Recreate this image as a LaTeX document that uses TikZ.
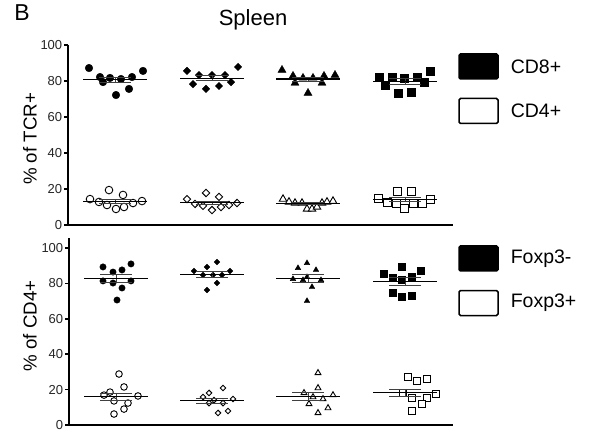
\documentclass[tikz,border=0pt]{standalone}
\usepackage{fontspec}
\setmainfont{Liberation Sans}
\usetikzlibrary{positioning, plotmarks}

\begin{document}
\begin{tikzpicture}[x=1pt, y=1pt,
  axis/.style={line width=1.6pt},
  tick label/.style={left, inner sep=1pt, text=black!85, font=\fontsize{13}{14}\selectfont},
  big/.style={font=\fontsize{19.5}{22}\selectfont},
  mean/.style={line width=1.1pt},
  sem/.style={line width=0.7pt, black!75},
  key/.style={draw, line width=1.5pt, rounded corners=1.5pt, minimum width=39pt, minimum height=25pt, inner sep=0pt},
  dots/.style={only marks, mark options={fill=black, line width=0.4pt}},
  rings/.style={only marks, mark options={fill=white, line width=0.9pt}},
  rdots/.style={only marks, mark options={fill=black, line width=0.4pt, rotate=45}},
  rrings/.style={only marks, mark options={fill=white, line width=0.9pt, rotate=45}}]
  \useasboundingbox (0,0) rectangle (596,431);

  \node[font=\fontsize{23}{24}\selectfont] (panel) at (22,418) {B};
  \node[font=\fontsize{22}{24}\selectfont] (spleen) at (253,411) {Spleen};
  \node[font=\fontsize{18.7}{20}\selectfont, rotate=90] (tcr label) at (30,292) {\% of TCR+};
  \node[font=\fontsize{18.7}{20}\selectfont, rotate=90] (cd4 label) at (30,105) {\% of CD4+};

  % upper panel
  \begin{scope}[shift={(0,206)}, y=1.8pt]
    \draw[axis] (68,100) -- (68,0) -- (453,0);
    \foreach \v in {0,20,...,100}
      \draw[axis] (64,\v) node[tick label] (tcr tick \v) {\v} -- (68,\v);

    \path plot[dots, mark=*, mark size=3.8pt] coordinates {(89,87.2) (100,82.2) (103,79.4) (110,81.7) (116,72.2) (121,81.1) (129,75.6) (132,82.2) (143,85.6)};
    \path plot[rdots, mark=square*, mark size=2.6pt] coordinates {(187,85.6) (193,78.3) (199,83.3) (206,75.6) (212,83.3) (219,77.2) (225,83.3) (231,79.4) (238,87.8)};
    \path plot[dots, mark=triangle*, mark size=4.6pt] coordinates {(282,86.1) (293,82.8) (295,78.9) (303,81.7) (308,73.3) (313,81.7) (322,78.9) (324,82.8) (335,83.3)};
    \path plot[dots, mark=square*, mark size=4.2pt] coordinates {(379,82.2) (385,77.8) (392,82.2) (398,73.3) (404,81.7) (411,73.9) (417,82.2) (424,79.4) (430,85.6)};

    \path plot[rings, mark=*, mark size=3.8pt] coordinates {(90,14.4) (99,12.8) (109,19.4) (107,11.1) (116,8.9) (123,16.7) (124,10.0) (133,12.2) (142,13.3)};
    \path plot[rrings, mark=square*, mark size=2.6pt] coordinates {(187,14.4) (195,11.7) (203,10.6) (206,17.8) (212,8.3) (219,15.6) (221,10.0) (229,11.1) (237,12.2)};
    \path plot[rings, mark=triangle*, mark size=4.3pt] coordinates {(283,14.4) (289,12.8) (295,12.2) (302,12.2) (307,8.9) (312,8.9) (317,10.0) (322,12.2) (327,12.8) (333,13.3)};
    \path plot[rings, mark=square*, mark size=4.0pt] coordinates {(378,15.0) (387,12.8) (397,18.9) (396,12.2) (404,9.4) (411,18.9) (413,12.2) (422,12.2) (430,14.4)};

    \foreach \gx/\m/\s in {115/80.8/1.5, 212/81.5/1.4, 308/81.1/1.2, 405/79.8/1.4,
                           115/13.2/1.1, 212/12.4/1.0, 308/11.8/0.6, 405/14.0/1.1} {
      \draw[sem] ({\gx-16},{\m+\s}) -- ({\gx+16},{\m+\s})
                 (\gx,{\m+\s}) -- (\gx,{\m-\s})
                 ({\gx-16},{\m-\s}) -- ({\gx+16},{\m-\s});
      \draw[mean] ({\gx-32},\m) -- ({\gx+32},\m);
    }
  \end{scope}

  % lower panel
  \begin{scope}[shift={(0,6)}, y=1.77pt]
    \draw[axis] (69,105.6) -- (69,0) -- (453,0);
    \foreach \v in {0,20,...,100}
      \draw[axis] (65,\v) node[tick label] (cd4 tick \v) {\v} -- (69,\v);

    \path plot[dots, mark=*, mark size=3.2pt] coordinates {(103,89.3) (113,86.4) (122,87.6) (131,91.0) (103,81.4) (113,80.2) (122,77.4) (131,81.4) (117,70.6)};
    \path plot[rdots, mark=square*, mark size=2.0pt] coordinates {(194,87.0) (203,84.7) (207,89.3) (217,92.1) (213,84.7) (222,84.7) (230,87.0) (217,80.2) (207,76.3)};
    \path plot[dots, mark=triangle*, mark size=3.2pt] coordinates {(307,91.5) (298,88.7) (316,87.6) (293,82.5) (303,81.9) (307,83.6) (321,81.9) (312,78.0) (307,70.1)};
    \path plot[dots, mark=square*, mark size=3.4pt] coordinates {(384,85.3) (393,83.1) (402,89.3) (402,81.9) (412,83.6) (421,87.0) (393,74.6) (402,72.3) (412,72.9)};

    \path plot[rings, mark=*, mark size=3.3pt] coordinates {(119,28.8) (110,18.6) (124,21.5) (104,16.9) (138,16.4) (114,13.6) (128,12.4) (124,9.0) (114,6.2)};
    \path plot[rrings, mark=square*, mark size=2.0pt] coordinates {(209,18.1) (223,20.9) (203,15.8) (214,14.1) (209,12.4) (223,12.4) (233,14.7) (218,6.8) (228,7.9)};
    \path plot[rings, mark=triangle*, mark size=3.4pt] coordinates {(318,29.4) (318,20.9) (304,18.1) (313,15.8) (323,14.7) (333,16.9) (309,11.9) (328,9.6) (318,6.8)};
    \path plot[rings, mark=square*, mark size=3.3pt] coordinates {(408,27.1) (417,24.9) (427,26.0) (403,18.1) (412,15.3) (427,15.3) (436,17.5) (422,11.9) (412,7.9)};

    \foreach \gx/\m/\s in {116/82.8/2.2, 212/85.1/1.6, 308/82.9/2.1, 405/81.1/2.1,
                           116/15.9/2.2, 212/13.7/1.5, 308/16.0/2.3, 405/18.2/2.1} {
      \draw[sem] ({\gx-16},{\m+\s}) -- ({\gx+16},{\m+\s})
                 (\gx,{\m+\s}) -- (\gx,{\m-\s})
                 ({\gx-16},{\m-\s}) -- ({\gx+16},{\m-\s});
      \draw[mean] ({\gx-32},\m) -- ({\gx+32},\m);
    }
  \end{scope}

  % legends
  \node[key, fill=black] (cd8 key) at (478.5,364.5) {};
  \node[key, fill=white, below=18pt of cd8 key] (cd4 key) {};
  \node[big, right=8.5pt of cd8 key] (cd8 text) {CD8+};
  \node[big, right=8.5pt of cd4 key] (cd4 text) {CD4+};

  \node[key, fill=black] (neg key) at (478.5,172.5) {};
  \node[key, fill=white, below=18pt of neg key] (pos key) {};
  \node[big, right=8.5pt of neg key] (neg text) {Foxp3-};
  \node[big, right=8.5pt of pos key] (pos text) {Foxp3+};
\end{tikzpicture}
\end{document}
